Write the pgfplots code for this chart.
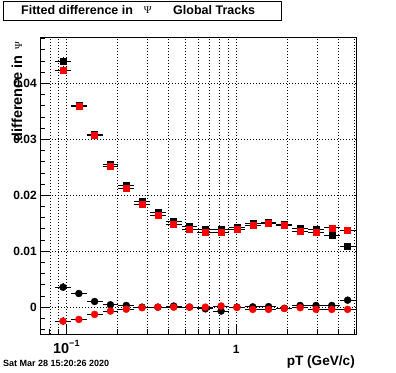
\documentclass[border=0pt]{standalone}
\usepackage{fontspec}
\setmainfont{Liberation Sans}
\newfontfamily\symfont{Liberation Serif}
\usepackage{pgfplots}
\pgfplotsset{compat=1.18}
\usepackage{pgfplotstable}

% x, upper (black, red), lower (black, red), y error, x error plus/minus
\pgfplotstableread{
x       yb       yr       cb        cr        ey      xp       xm
0.0956  0.04398  0.04238  0.00357  -0.00250   0.0007  0.01082  0.00972
0.1185  0.03605  0.03595  0.00244  -0.00220   0.0004  0.01341  0.01205
0.1468  0.03085  0.03077  0.00101  -0.00130   0.0003  0.01662  0.01493
0.1819  0.02548  0.02524  0.00042  -0.00070   0.0003  0.02059  0.01850
0.2254  0.02173  0.02130  0.00030  -0.00036   0.0002  0.02552  0.02292
0.2793  0.01898  0.01845  0.00000  -0.00010   0.0002  0.03162  0.02840
0.3461  0.01702  0.01649  0.00000   0.00000   0.0002  0.03918  0.03520
0.4289  0.01541  0.01488  0.00020   0.00000   0.0002  0.04855  0.04362
0.5314  0.01452  0.01399  0.00000   0.00000   0.0002  0.06015  0.05404
0.6585  0.01387  0.01345 -0.00030   0.00000   0.0002  0.07454  0.06697
0.8159  0.01390  0.01345 -0.00070   0.00020   0.0002  0.09236  0.08298
1.0109  0.01433  0.01399  0.00000  -0.00005   0.0002  0.1144   0.1028
1.2526  0.01500  0.01464  0.00005  -0.00040   0.0002  0.1418   0.1274
1.5521  0.01510  0.01506  0.00010  -0.00040   0.0002  0.1757   0.1578
1.9231  0.01475  0.01470 -0.00020  -0.00024   0.0002  0.2177   0.1956
2.3830  0.01410  0.01363  0.00030  -0.00010   0.0002  0.2698   0.2424
2.9526  0.01390  0.01345  0.00030  -0.00040   0.0002  0.3342   0.3003
3.6585  0.01286  0.01417  0.00030  -0.00040   0.0002  0.4141   0.3721
4.5331  0.01095  0.01380  0.00125  -0.00040   0.0002  0.5131   0.4610
}\data

\begin{document}
\begin{tikzpicture}[x=1pt,y=1pt]
\useasboundingbox (0,0) rectangle (396,372);
\fill[white] (0,0) rectangle (396,372);
\begin{axis}[
  at={(40pt,38pt)}, anchor=south west,
  width=316pt, height=297pt, scale only axis,
  xmode=log, xmin=0.07, xmax=5.08,
  ymin=-0.0048, ymax=0.0483,
  scaled y ticks=false, scaled x ticks=false,
  axis line style={black, line width=0.8pt},
  xtick={0.1,1},
  xticklabels={{\fontsize{14.5}{14.5}\selectfont\bfseries 10\raisebox{7pt}{\fontsize{9}{9}\selectfont\bfseries −1}},{\fontsize{12}{12}\selectfont\bfseries 1}},
  minor xtick={0.08,0.09,0.2,0.3,0.4,0.5,0.6,0.7,0.8,0.9,2,3,4,5},
  ytick={0,0.01,0.02,0.03,0.04},
  yticklabels={0,0.01,0.02,0.03,0.04},
  minor ytick={-0.004,-0.002,0.002,0.004,0.006,0.008,0.012,0.014,0.016,0.018,0.022,0.024,0.026,0.028,0.032,0.034,0.036,0.038,0.042,0.044,0.046,0.048},
  xtick pos=lower, ytick pos=left,
  tick align=inside,
  major tick length=9pt, minor tick length=5pt,
  tick style={black, line width=0.8pt},
  xmajorgrids, xminorgrids, ymajorgrids,
  grid style={black, line width=0.7pt, dash pattern=on 0.8pt off 2.2pt},
  yticklabel style={font=\bfseries\fontsize{12}{12}\selectfont, inner sep=0pt, xshift=-3pt},
  xticklabel style={inner sep=0pt, anchor=base, yshift=-19pt},
  clip=false,
  error bars/error bar style={black, line width=0.8pt},
]
\addplot[only marks, mark=square*, mark size=3pt, black,
  error bars/.cd, x dir=both, x explicit, y dir=both, y explicit, error mark=none]
  table[x=x, y=yb, x error plus=xp, x error minus=xm, y error=ey] {\data};
\addplot[only marks, mark=*, mark size=3.5pt, black,
  error bars/.cd, x dir=both, x explicit, y dir=both, y explicit, error mark=none]
  table[x=x, y=cb, x error plus=xp, x error minus=xm, y error=ey] {\data};
\addplot[only marks, mark=square*, mark size=3pt, red, mark options={draw=red, fill=red},
  error bars/.cd, x dir=both, x explicit, y dir=both, y explicit, error mark=none]
  table[x=x, y=yr, x error plus=xp, x error minus=xm, y error=ey] {\data};
\addplot[only marks, mark=*, mark size=3.5pt, red, mark options={draw=red, fill=red},
  error bars/.cd, x dir=both, x explicit, y dir=both, y explicit, error mark=none]
  table[x=x, y=cr, x error plus=xp, x error minus=xm, y error=ey] {\data};
\end{axis}
% title box
\draw[black, line width=0.8pt, fill=white] (3.5,351.5) rectangle (281.5,371);
\node[anchor=base west, inner sep=0pt, font=\bfseries\fontsize{12.5}{12.5}\selectfont] at (21,357.3) {Fitted difference in};
\node[anchor=base, inner sep=0pt, font=\symfont\fontsize{10.5}{10.5}\selectfont] at (147.7,358.7) {Ψ};
\node[anchor=base west, inner sep=0pt, font=\bfseries\fontsize{12.5}{12.5}\selectfont] at (173,357.3) {Global Tracks};
% y label
\node[rotate=90, anchor=base east, inner sep=0pt, font=\bfseries\fontsize{14.5}{14.5}\selectfont] at (22,317) {difference in};
\node[rotate=90, anchor=base east, inner sep=0pt, font=\symfont\fontsize{10.5}{10.5}\selectfont] at (22,330) {Ψ};
% x label
\node[anchor=base east, inner sep=0pt, font=\bfseries\fontsize{13.6}{13.6}\selectfont] at (355,6) {pT (GeV/c)};
% date
\node[anchor=base west, inner sep=0pt, font=\bfseries\fontsize{9}{9}\selectfont] at (3,5.3) {Sat Mar 28 15:20:26 2020};
\end{tikzpicture}
\end{document}
